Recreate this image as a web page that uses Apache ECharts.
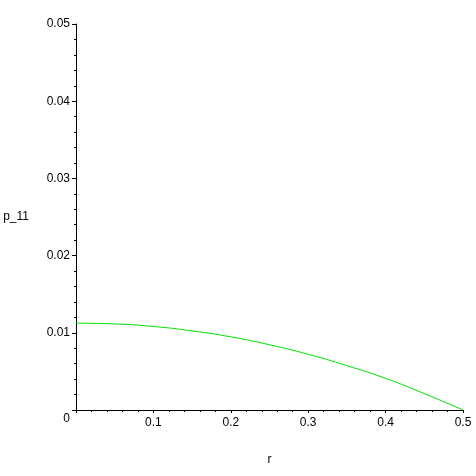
<!DOCTYPE html>
<html>
<head>
    <meta charset="utf-8">
    <title>p_11</title>
    <script src="https://cdn.jsdelivr.net/npm/echarts@6/dist/echarts.min.js"></script>
    <style>
        html, body { margin: 0; padding: 0; background: #fff; }
        #chart { width: 476px; height: 476px; }
    </style>
</head>
<body>
    <div id="chart"></div>
    <script>
        // r values and p_11
        var rValues = [0, 0.05, 0.1, 0.15, 0.2, 0.25, 0.3, 0.35, 0.4, 0.45, 0.5];
        var p11Values = [0.01125, 0.01115, 0.01082, 0.01025, 0.00948, 0.00845, 0.00722, 0.00574, 0.0041, 0.00212, 0];
        var xTicks = [0, 0.1, 0.2, 0.3, 0.4, 0.5];
        var yTicks = [0, 0.01, 0.02, 0.03, 0.04, 0.05];

        var font = 'Liberation Sans, Arial, sans-serif';
        var chart = echarts.init(document.getElementById('chart'));

        chart.setOption({
            animation: false,
            grid: { left: 76, right: 13, top: 24, bottom: 66 },
            xAxis: {
                type: 'value',
                min: xTicks[0],
                max: xTicks[xTicks.length - 1],
                interval: 0.1,
                name: 'r',
                nameLocation: 'middle',
                nameGap: 44,
                nameTextStyle: { color: '#000', fontSize: 12, fontFamily: font },
                axisLine: { onZero: false, lineStyle: { color: '#000', width: 1 } },
                axisTick: { show: true, length: 3, lineStyle: { color: '#000' } },
                minorTick: { show: true, splitNumber: 5, length: 2, lineStyle: { color: '#000' } },
                splitLine: { show: false },
                axisLabel: {
                    color: '#000', fontSize: 12, fontFamily: font, margin: 7,
                    formatter: function (v) { return v === 0 ? '' : String(+v.toFixed(2)); }
                }
            },
            yAxis: {
                type: 'value',
                min: yTicks[0],
                max: yTicks[yTicks.length - 1],
                interval: 0.01,
                name: 'p_11',
                nameLocation: 'middle',
                nameRotate: 0,
                nameGap: 47,
                nameTextStyle: { color: '#000', fontSize: 12, fontFamily: font },
                axisLine: { show: true, onZero: false, lineStyle: { color: '#000', width: 1 } },
                axisTick: { show: true, length: 4, lineStyle: { color: '#000' } },
                minorTick: { show: true, splitNumber: 5, length: 2, lineStyle: { color: '#000' } },
                splitLine: { show: false },
                axisLabel: {
                    color: '#000', fontSize: 12, fontFamily: font, margin: 6,
                    formatter: function (v) { return v === 0 ? '{z|0}' : String(+v.toFixed(2)); },
                    rich: { z: { color: '#000', fontSize: 12, fontFamily: font, padding: [18, 0, 0, 0] } }
                }
            },
            series: [{
                type: 'line',
                data: rValues.map(function (r, i) { return [r, p11Values[i]]; }),
                smooth: true,
                symbol: 'none',
                lineStyle: { color: '#00e000', width: 1 }
            }]
        });
    </script>
</body>
</html>
